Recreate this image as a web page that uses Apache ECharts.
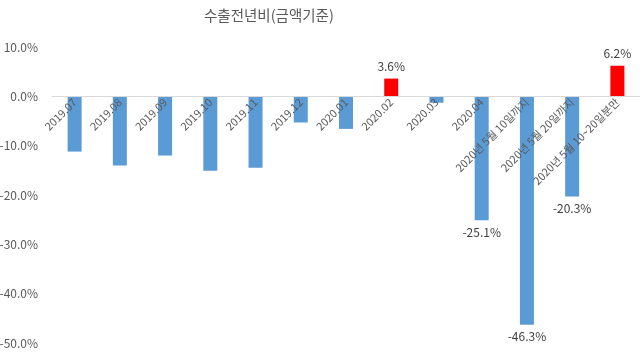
<!DOCTYPE html>
<html>
<head>
<meta charset="utf-8">
<script src="https://cdn.jsdelivr.net/npm/echarts@6/dist/echarts.min.js"></script>
<style>
html, body { margin: 0; padding: 0; background: #fff; }
#chart { width: 640px; height: 353px; }
</style>
</head>
<body>
<div id="chart"></div>
<script>
'use strict';

// 범주 (x축)
const categories = ['2019.07', '2019.08', '2019.09', '2019.10', '2019.11', '2019.12',
  '2020.01', '2020.02', '2020.03', '2020.04',
  '2020년 5월 10일까지', '2020년 5월 20일까지', '2020년 5월 10~20일분만'];

// 수출 전년비 (%)
const values = [-11.2, -14.0, -12.0, -15.1, -14.5, -5.3, -6.6, 3.6, -1.3, -25.1, -46.3, -20.3, 6.2];

// 값 라벨을 표시하는 범주
const labelled = ['2020.02', '2020.04', '2020년 5월 10일까지', '2020년 5월 20일까지', '2020년 5월 10~20일분만'];

// y축 범위
const yMin = -50, yMax = 10, yStep = 10;

const font = '"Noto Sans CJK KR", "Noto Sans", sans-serif';

const gridTop = 47, gridBottom = 10, chartH = 353;
// x축(라벨 포함)을 0% 선으로 올림
const zeroOffset = -(chartH - gridTop - gridBottom) * (0 - yMin) / (yMax - yMin);

const data = values.map((v, i) => ({
  value: v,
  itemStyle: { color: v >= 0 ? '#ff0000' : '#5b9bd5' },
  label: { show: labelled.includes(categories[i]) }
}));

const chart = echarts.init(document.getElementById('chart'));
chart.setOption({
  animation: false,
  title: {
    text: '수출전년비(금액기준)',
    left: 199,
    top: 3,
    textStyle: { fontFamily: font, fontSize: 14.5, fontWeight: 'normal', color: '#595959' }
  },
  grid: { left: 52, right: 0, top: gridTop, bottom: gridBottom, containLabel: false, outerBoundsMode: 'none' },
  xAxis: {
    type: 'category',
    data: categories,
    position: 'bottom',
    offset: zeroOffset,
    z: 10,
    axisLine: { onZero: false, lineStyle: { color: '#d9d9d9', width: 1 } },
    axisTick: { show: false },
    axisLabel: {
      interval: 0,
      rotate: 45,
      margin: 4,
      fontFamily: font,
      fontSize: 11,
      color: '#595959',
      hideOverlap: false
    }
  },
  yAxis: {
    type: 'value',
    min: yMin,
    max: yMax,
    interval: yStep,
    splitLine: { show: false },
    axisLine: { show: false },
    axisTick: { show: false },
    axisLabel: {
      margin: 14,
      fontFamily: font,
      fontSize: 12,
      color: '#595959',
      formatter: v => v.toFixed(1) + '%'
    }
  },
  series: [{
    type: 'bar',
    data: data,
    barWidth: 14,
    z: 2,
    label: {
      position: 'outside',
      distance: 6,
      fontFamily: font,
      fontSize: 12,
      color: '#404040',
      formatter: p => p.value.toFixed(1) + '%'
    }
  }]
});
</script>
</body>
</html>
